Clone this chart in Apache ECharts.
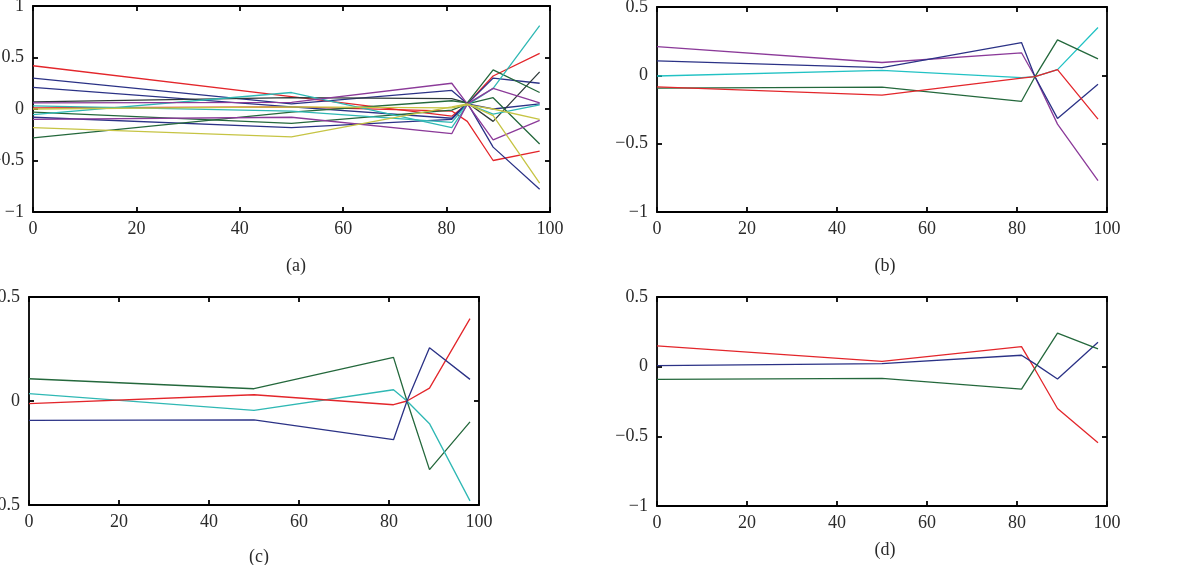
<!DOCTYPE html>
<html><head><meta charset="utf-8">
<script src="https://cdn.jsdelivr.net/npm/echarts@6/dist/echarts.min.js"></script>
<style>html,body{margin:0;padding:0;background:#fff}#c{width:1200px;height:565px}</style>
</head><body><div id="c"></div>
<script>
// ---- data ----
const xVals = [0, 50, 81, 84, 89, 98];
const xTicks = [0, 20, 40, 60, 80, 100];
const panelLabels = ['(a)', '(b)', '(c)', '(d)'];

// panel (a)
const aRed1    = [0.42, 0.12, -0.07, 0.05, 0.32, 0.54];
const aRed2    = [0.01, 0.02, -0.02, -0.12, -0.50, -0.41];
const aBlue1   = [0.30, 0.05, 0.18, 0.05, 0.30, 0.25];
const aBlue2   = [0.21, 0.02, -0.09, 0.06, -0.37, -0.78];
const aBlue3   = [-0.08, -0.18, -0.10, 0.05, 0.00, 0.05];
const aBlack   = [0.07, 0.11, 0.10, 0.06, -0.12, 0.36];
const aGreen1  = [-0.28, -0.03, 0.08, 0.06, 0.38, 0.16];
const aGreen2  = [-0.03, -0.14, -0.01, 0.05, 0.11, -0.34];
const aCyan1   = [-0.055, 0.16, -0.18, 0.04, 0.20, 0.81];
const aCyan2   = [0.03, -0.02, -0.13, 0.05, -0.05, 0.04];
const aPurple1 = [0.06, 0.065, 0.25, 0.05, 0.20, 0.06];
const aPurple2 = [-0.10, -0.08, -0.24, 0.05, -0.30, -0.11];
const aYellow1 = [-0.18, -0.27, 0.02, 0.05, -0.065, -0.72];
const aYellow2 = [0.00, 0.02, 0.01, 0.04, 0.00, -0.10];

// panel (b)
const bPurple = [0.21, 0.094, 0.165, -0.01, -0.357, -0.77];
const bBlue   = [0.106, 0.057, 0.24, -0.01, -0.315, -0.066];
const bCyan   = [-0.005, 0.037, -0.017, -0.01, 0.042, 0.35];
const bGreen  = [-0.094, -0.086, -0.19, -0.01, 0.26, 0.12];
const bRed    = [-0.084, -0.145, -0.02, -0.01, 0.042, -0.32];

// panel (c)
const cGreen = [0.107, 0.059, 0.21, 0.0, -0.33, -0.10];
const cCyan  = [0.035, -0.045, 0.054, 0.0, -0.109, -0.48];
const cRed   = [-0.013, 0.03, -0.018, 0.0, 0.062, 0.396];
const cBlue  = [-0.093, -0.091, -0.186, 0.0, 0.256, 0.104];

// panel (d)
const dRed   = [0.149, 0.038, 0.144, -0.02, -0.30, -0.546];
const dBlue  = [0.007, 0.022, 0.082, 0.02, -0.089, 0.175];
const dGreen = [-0.091, -0.084, -0.161, -0.01, 0.24, 0.127];

// ---- styling ----
const C = {
  red: '#e3262b', blue: '#2b3286', green: '#24683c', cyan: '#2fb8b4',
  purple: '#8b3a99', yellow: '#c6c444', black: '#2f3a3a'
};
const FONT = 'Liberation Serif';

const panels = [
  { grid: {left: 33, top: 6, width: 517, height: 206}, ymin: -1, ymax: 1,
    series: [[aRed1,C.red],[aRed2,C.red],[aBlue1,C.blue],[aBlue2,C.blue],[aBlue3,C.blue],
             [aBlack,C.black],[aGreen1,C.green],[aGreen2,C.green],[aCyan1,C.cyan],[aCyan2,C.cyan],
             [aPurple1,C.purple],[aPurple2,C.purple],[aYellow1,C.yellow],[aYellow2,C.yellow]],
    title: {x: 291, y: 252} },
  { grid: {left: 657, top: 7, width: 450, height: 205}, ymin: -1, ymax: 0.5,
    series: [[bPurple,C.purple],[bBlue,C.blue],[bCyan,'#22c2c4'],[bGreen,C.green],[bRed,C.red]],
    title: {x: 880, y: 252} },
  { grid: {left: 29, top: 297, width: 450, height: 208}, ymin: -0.5, ymax: 0.5,
    series: [[cGreen,C.green],[cCyan,C.cyan],[cRed,C.red],[cBlue,C.blue]],
    title: {x: 254, y: 543} },
  { grid: {left: 657, top: 297, width: 450, height: 209}, ymin: -1, ymax: 0.5,
    series: [[dRed,C.red],[dBlue,C.blue],[dGreen,C.green]],
    title: {x: 880, y: 536} }
];

const fmtNum = v => {
  if (Math.abs(v) < 1e-9) return '0';
  const s = String(Math.abs(v));
  return (v < 0 ? '\u2212' : '') + s;
};

const grids = [], xAxes = [], yAxes = [], series = [], titles = [];
const lineAx = {show: true, onZero: false, lineStyle: {color: '#000', width: 1.8}};
const tickAx = {show: true, inside: true, length: 5, lineStyle: {color: '#000', width: 1.8}};
const lbl = {color: '#2a2a2a', fontFamily: FONT, fontSize: 18};

panels.forEach((p, i) => {
  grids.push(Object.assign({containLabel: false, outerBoundsMode: 'none'}, p.grid));
  xAxes.push({type: 'value', gridIndex: i, position: 'bottom', min: 0, max: 100, interval: 20,
    axisLine: lineAx, axisTick: tickAx, splitLine: {show: false},
    axisLabel: Object.assign({margin: 8, formatter: v => xTicks.includes(v) ? String(v) : ''}, lbl)});
  xAxes.push({type: 'value', gridIndex: i, position: 'top', min: 0, max: 100, interval: 20,
    axisLine: lineAx, axisTick: tickAx, splitLine: {show: false}, axisLabel: {show: false}});
  yAxes.push({type: 'value', gridIndex: i, position: 'left', min: p.ymin, max: p.ymax, interval: 0.5,
    axisLine: lineAx, axisTick: tickAx, splitLine: {show: false},
    axisLabel: Object.assign({margin: 9, formatter: fmtNum}, lbl)});
  yAxes.push({type: 'value', gridIndex: i, position: 'right', min: p.ymin, max: p.ymax, interval: 0.5,
    axisLine: lineAx, axisTick: tickAx, splitLine: {show: false}, axisLabel: {show: false}});
  p.series.forEach(([vals, col]) => {
    series.push({type: 'line', xAxisIndex: 2 * i, yAxisIndex: 2 * i, showSymbol: false, silent: true,
      animation: false, clip: true,
      data: xVals.map((x, k) => [x, vals[k]]),
      lineStyle: {color: col, width: 1.3}});
  });
  titles.push({text: panelLabels[i], left: p.title.x, top: p.title.y, textAlign: 'center',
    textStyle: {fontFamily: FONT, fontSize: 18, fontWeight: 'normal', color: '#2a2a2a'}});
});

const chart = echarts.init(document.getElementById('c'), null, {renderer: 'canvas'});
chart.setOption({
  backgroundColor: '#fff', animation: false,
  title: titles, grid: grids, xAxis: xAxes, yAxis: yAxes, series: series
});
</script></body></html>
